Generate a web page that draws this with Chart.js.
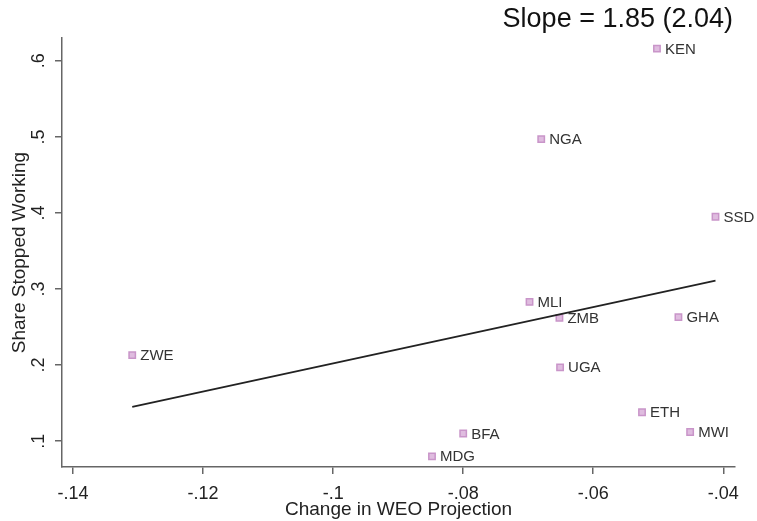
<!DOCTYPE html>
<html>
<head>
<meta charset="utf-8">
<script src="https://cdn.jsdelivr.net/npm/chart.js@4/dist/chart.umd.min.js"></script>
<style>
  html, body { margin: 0; padding: 0; background: #fff; }
  #wrap { width: 757px; height: 521px; }
</style>
</head>
<body>
<div id="wrap"><canvas id="chart" width="757" height="521"></canvas></div>
<script>
// country codes with their x (change in WEO projection) and y (share stopped working)
const countries = ['KEN', 'NGA', 'SSD', 'MLI', 'ZMB', 'GHA', 'ZWE', 'UGA', 'ETH', 'MWI', 'BFA', 'MDG'];
const weoChange = [-0.0502, -0.0680, -0.0412, -0.0698, -0.0652, -0.0469, -0.1309, -0.0651, -0.0525, -0.0451, -0.0800, -0.0848];
const shareStopped = [0.616, 0.497, 0.395, 0.283, 0.262, 0.263, 0.213, 0.197, 0.138, 0.112, 0.110, 0.080];

// fitted line end points
const fitX = [-0.1309, -0.0412];
const fitY = [0.145, 0.311];

const xTicks = [-0.14, -0.12, -0.10, -0.08, -0.06, -0.04];
const xTickLabels = ['-.14', '-.12', '-.1', '-.08', '-.06', '-.04'];
const yTicks = [0.1, 0.2, 0.3, 0.4, 0.5, 0.6];
const yTickLabels = ['.1', '.2', '.3', '.4', '.5', '.6'];

const titleText = 'Slope = 1.85 (2.04)';
const FONT = '"Liberation Sans", Arial, sans-serif';

const points = countries.map((c, i) => ({ x: weoChange[i], y: shareStopped[i] }));
const fitPoints = fitX.map((x, i) => ({ x: x, y: fitY[i] }));

// draws the point labels, rotated y tick labels and the slope text
const extrasPlugin = {
    id: 'extras',
    afterDatasetsDraw(chart) {
        const ctx = chart.ctx;
        const meta = chart.getDatasetMeta(1);
        ctx.save();
        ctx.font = '15px ' + FONT;
        ctx.fillStyle = '#333';
        ctx.textAlign = 'left';
        ctx.textBaseline = 'middle';
        meta.data.forEach((el, i) => {
            ctx.fillText(countries[i], el.x + 8, el.y + 1);
        });

        const yScale = chart.scales.y;
        ctx.font = '18px ' + FONT;
        ctx.fillStyle = '#222';
        ctx.textAlign = 'center';
        ctx.textBaseline = 'middle';
        yTicks.forEach((v, i) => {
            const py = yScale.getPixelForValue(v);
            ctx.save();
            ctx.translate(39, py);
            ctx.rotate(-Math.PI / 2);
            ctx.fillText(yTickLabels[i], 0, 0);
            ctx.restore();
        });

        ctx.font = '27px ' + FONT;
        ctx.fillStyle = '#111';
        ctx.textAlign = 'right';
        ctx.textBaseline = 'middle';
        ctx.fillText(titleText, 733, 20);
        ctx.restore();
    }
};

const ctx = document.getElementById('chart').getContext('2d');
new Chart(ctx, {
    type: 'scatter',
    data: {
        datasets: [{
            type: 'line',
            data: fitPoints,
            borderColor: '#222',
            borderWidth: 1.8,
            pointRadius: 0,
            fill: false
        }, {
            data: points,
            pointStyle: 'rect',
            pointRadius: 4.5,
            backgroundColor: '#dfbcdf',
            borderColor: '#c995c9',
            borderWidth: 1.5
        }]
    },
    options: {
        responsive: false,
        animation: false,
        events: [],
        layout: { padding: { left: 0, right: 22, top: 38, bottom: 0 } },
        plugins: {
            legend: { display: false },
            tooltip: { enabled: false }
        },
        scales: {
            x: {
                type: 'linear',
                min: -0.1417,
                max: -0.0382,
                afterBuildTicks: scale => { scale.ticks = xTicks.map(v => ({ value: v })); },
                afterFit: scale => { scale.height = 54; },
                border: { color: '#666', width: 1.5 },
                grid: { drawOnChartArea: false, drawTicks: true, tickLength: 7, tickColor: '#666', lineWidth: 1.5 },
                ticks: {
                    padding: 9,
                    maxRotation: 0,
                    color: '#222',
                    font: { family: FONT, size: 18 },
                    callback: (v) => {
                        const i = xTicks.findIndex(t => Math.abs(t - v) < 1e-9);
                        return i >= 0 ? xTickLabels[i] : '';
                    }
                },
                title: {
                    display: true,
                    text: 'Change in WEO Projection',
                    color: '#222',
                    font: { family: FONT, size: 19 },
                    padding: { top: 0, bottom: 0 }
                }
            },
            y: {
                type: 'linear',
                min: 0.066,
                max: 0.63,
                afterBuildTicks: scale => { scale.ticks = yTicks.map(v => ({ value: v })); },
                afterFit: scale => { scale.width = 62; },
                border: { color: '#666', width: 1.5 },
                grid: { drawOnChartArea: false, drawTicks: true, tickLength: 7, tickColor: '#666', lineWidth: 1.5 },
                ticks: { display: true, color: 'rgba(0,0,0,0)', font: { family: FONT, size: 15 } },
                title: {
                    display: true,
                    text: 'Share Stopped Working',
                    color: '#222',
                    font: { family: FONT, size: 19 },
                    padding: { top: 8, bottom: 0 }
                }
            }
        }
    },
    plugins: [extrasPlugin]
});
</script>
</body>
</html>
